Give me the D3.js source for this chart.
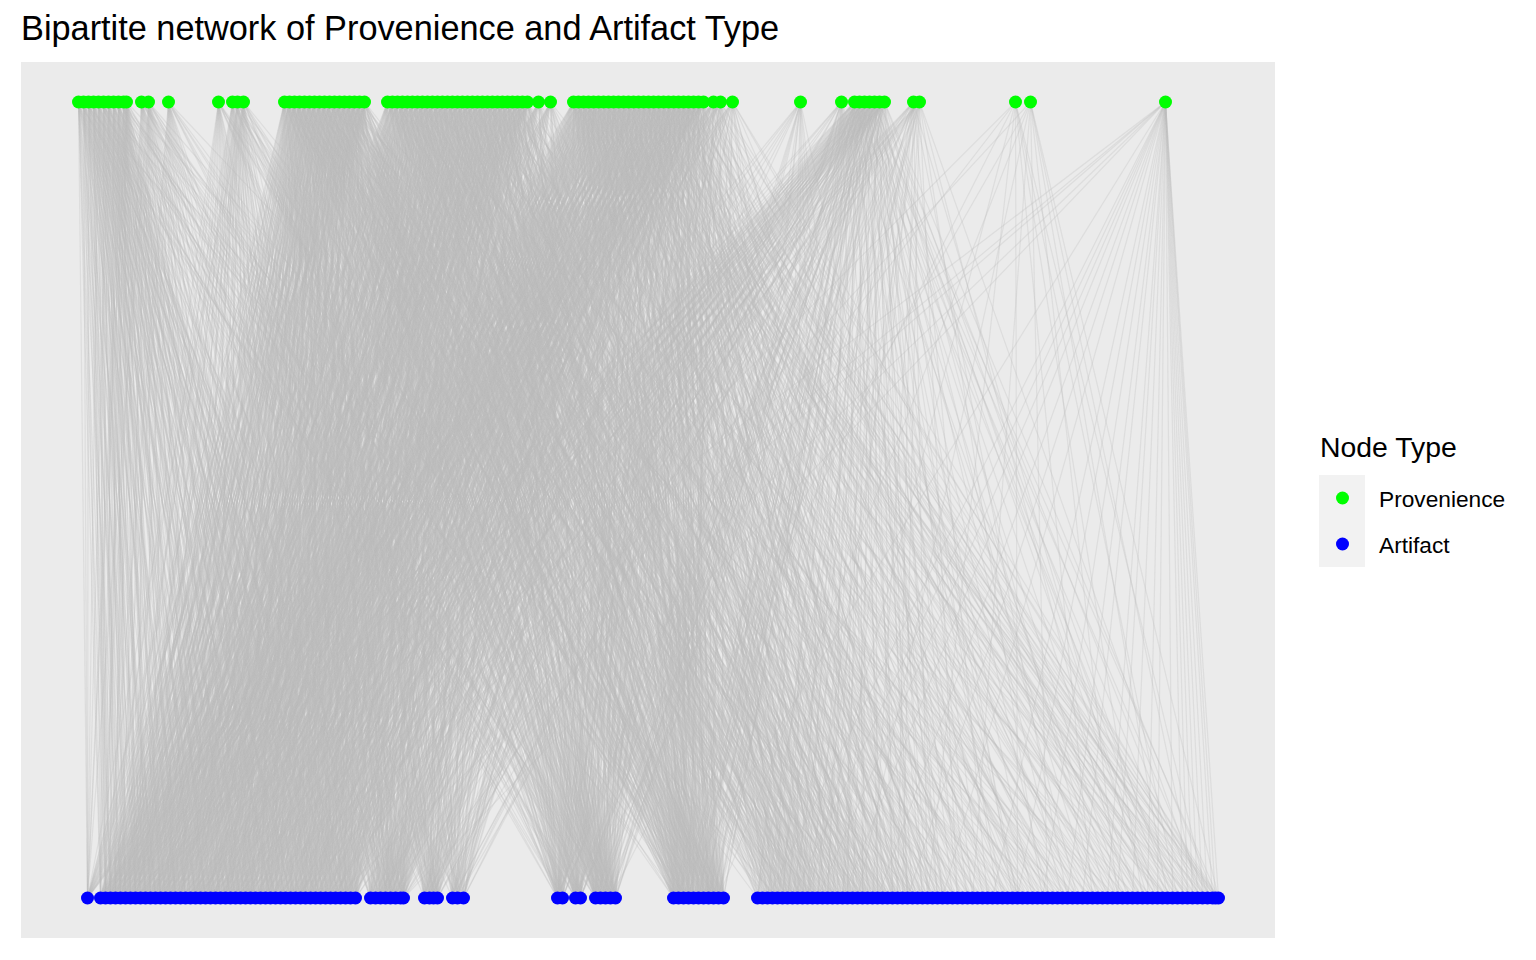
<!DOCTYPE html>
<html>
<head>
<meta charset="utf-8">
<script src="https://cdn.jsdelivr.net/npm/d3@7"></script>
<style>
  html, body { margin: 0; padding: 0; background: #ffffff; }
  svg { display: block; font-family: "Liberation Sans", Arial, sans-serif; }
</style>
</head>
<body>
<svg id="chart" width="1536" height="960"></svg>
<script>
// ---------------- DATA ----------------
const chartTitle = "Bipartite network of Provenience and Artifact Type";
const legendTitle = "Node Type";
const nodeTypes = ["Provenience", "Artifact"];
const typeColors = ["#00ff00", "#0000ff"];

// layout positions (bipartite layout x) of provenience nodes (top row)
const provX = [
  78,83,88,93,98,103,108,113,118,123,126,
  141,148,
  168,
  218,
  232,237,243,
  284,289,294,299,304,309,314,319,324,329,334,339,344,349,354,359,364,
  387,392,397,402,407,412,417,422,427,432,437,442,447,452,457,462,467,472,477,482,487,492,497,502,507,512,517,522,527,
  538,550,
  573,578,583,588,593,598,603,608,613,618,623,628,633,638,643,648,653,658,663,668,673,678,683,688,693,698,703,
  713,720,732,
  800,
  841,
  854,859,864,869,874,879,884,
  913,919,
  1015,1030,
  1165
];

// layout positions of artifact-type nodes (bottom row)
const artX = [
  87,
  100,105,110,115,120,125,130,135,140,145,
  150,155,160,165,170,175,180,185,190,195,
  200,205,210,215,220,225,230,235,240,245,
  250,255,260,265,270,275,280,285,290,295,
  300,305,310,315,320,325,330,335,340,345,
  350,355,
  370,375,380,385,390,395,400,403,
  424,429,433,437,
  452,457,463,
  557,562,
  575,580,
  595,600,605,610,615,
  673,678,683,688,693,698,703,708,713,718,723,
  757,762,767,772,777,782,787,792,797,802,
  807,812,817,822,827,832,837,842,847,852,
  857,862,867,872,877,882,887,892,897,902,
  907,912,917,922,927,932,937,942,947,952,
  957,962,967,972,977,982,987,992,997,1002,
  1007,1012,1017,1022,1027,1032,1037,1042,1047,1052,
  1057,1062,1067,1072,1077,1082,1087,1092,1097,1102,
  1107,1112,1117,1122,1127,1132,1137,1142,1147,1152,
  1157,1162,1167,1172,1177,1182,1187,1192,1197,1202,
  1207,1212,1215,1218
];

// for each provenience node (same order as provX): indices of linked artifact nodes
const provLinks = [
  "0 1 2 3 5 9 14 20 27 35 44 53 70",
  "0 1 4 6 8 12 18 25 31 40 49 57 73 92",
  "0 2 3 7 10 15 22 29 36 45 54 61 69",
  "1 3 5 8 11 16 24 30 38 47 58 65 78",
  "0 2 4 9 13 19 26 33 41 50 59 72 100",
  "1 2 6 10 14 21 28 34 43 52 56 63 75",
  "0 3 5 7 12 17 23 32 39 46 55 66 80",
  "2 4 8 11 15 20 27 37 42 51 60 71 86",
  "1 3 6 9 13 18 25 30 44 48 53 68 96",
  "0 4 7 10 16 22 29 35 40 49 57 74 84",
  "2 5 8 12 19 24 31 38 45 54 62 76 110",
  "3 9 16 23 31 39 47 55 64 70 79 90",
  "5 11 18 26 34 42 50 58 67 73 83 104",
  "2 8 15 21 28 36 44 52 60 69 77 88 120",
  "6 13 20 27 33 41 48 56 71 81 95",
  "4 10 17 24 32 38 46 54 63 72 82 99",
  "7 14 19 26 35 43 51 59 68 75 85 108",
  "9 12 22 30 37 45 53 61 70 78 89 115",
  "1 6 12 19 25 30 36 41 48 55 62 69 74 80 93 128",
  "3 8 14 21 27 33 39 44 50 57 65 71 77 84 101 139",
  "0 5 10 17 23 29 35 42 47 53 60 68 73 79 90 117",
  "2 7 13 20 26 31 37 43 49 56 64 70 76 82 97 150",
  "4 9 15 22 28 34 40 46 52 58 66 72 78 86 106 124",
  "1 11 16 18 24 32 38 45 51 59 61 69 75 83 94 133",
  "3 6 12 19 27 30 36 44 48 54 63 71 74 81 99 145",
  "5 8 14 21 25 33 39 41 50 57 67 70 77 85 103 119",
  "0 10 13 20 26 29 35 42 47 55 62 68 76 80 91 160",
  "2 7 17 23 28 31 37 43 49 53 60 72 73 87 109 131",
  "4 9 15 22 24 34 40 46 51 58 64 69 75 79 96 142",
  "1 6 11 18 27 32 38 45 52 56 65 71 78 84 112 126",
  "3 8 16 20 25 30 36 44 48 59 61 70 74 82 92 155",
  "5 10 12 19 26 33 39 41 50 54 66 68 77 86 105 137",
  "0 7 14 21 28 29 35 42 47 57 63 72 76 83 98 121",
  "2 9 13 17 23 31 37 43 49 55 67 69 73 81 114 148",
  "4 11 15 22 24 34 40 46 51 60 62 71 75 85 100 135",
  "0 8 15 22 30 38 45 52 58 66 70 77 89 102 130",
  "2 10 17 25 33 40 47 54 61 68 74 80 93 118 152",
  "4 12 19 27 35 42 49 56 63 72 76 83 96 107 141",
  "6 14 21 29 37 44 51 57 65 69 73 85 91 111 164",
  "1 9 16 24 31 39 46 53 60 71 75 79 99 115 127",
  "3 11 18 26 32 41 48 55 62 70 77 86 94 104 158",
  "5 13 20 28 34 43 50 59 64 68 72 81 90 122 144",
  "7 15 23 30 36 45 52 58 67 73 76 84 97 109 136",
  "0 10 17 25 38 47 54 60 66 69 74 78 101 113 170",
  "2 12 19 27 33 40 49 56 61 71 75 87 92 125 149",
  "4 14 22 29 35 42 51 53 63 70 73 82 95 108 133",
  "6 8 16 24 31 37 44 57 65 68 76 80 98 116 162",
  "1 11 18 26 34 39 46 55 62 72 77 85 89 103 139",
  "3 13 21 28 36 41 48 59 64 69 74 79 100 120 146",
  "5 9 20 23 30 43 50 54 67 71 75 83 91 110 175",
  "7 15 17 25 32 38 45 52 60 70 73 86 94 128 138",
  "0 12 19 27 33 40 47 58 61 68 76 81 96 105 156",
  "2 10 22 29 35 44 49 56 66 72 74 78 102 117 131",
  "4 14 16 24 31 42 51 53 63 69 77 84 88 112 143",
  "6 8 18 26 37 39 46 57 65 71 75 87 93 124 167",
  "1 11 21 28 34 41 48 55 62 70 73 80 99 106 134",
  "3 13 20 23 30 43 50 59 64 68 76 82 90 119 151",
  "5 9 17 25 36 45 52 54 67 72 74 85 97 114 140",
  "7 15 19 27 32 38 44 58 60 69 77 79 101 126 159",
  "0 12 22 29 33 40 47 56 61 71 75 83 92 107 178",
  "2 10 16 24 35 42 49 53 66 70 73 86 95 121 135",
  "4 14 18 26 31 39 51 57 63 68 76 81 98 110 147",
  "6 8 21 28 37 46 48 55 65 72 74 78 89 129 165",
  "1 11 20 25 34 41 50 59 62 69 77 84 100 113 142",
  "3 15 27 39 52 60 70 75 82 95 118 150",
  "5 18 30 43 55 64 71 76 87 103 132 170",
  "0 9 18 27 36 45 54 63 70 77 88 104 123 145 170",
  "2 11 20 29 38 47 56 65 71 79 90 107 126 148 173",
  "4 13 22 31 40 49 58 61 72 81 92 110 129 151 176",
  "6 15 24 33 42 51 60 66 73 83 94 113 132 154 179",
  "8 17 26 35 44 53 62 68 74 85 96 116 135 157 181",
  "1 10 19 28 37 46 55 64 75 87 98 119 138 160 171",
  "3 12 21 30 39 48 57 67 76 78 100 122 141 163 174",
  "5 14 23 32 41 50 59 69 70 80 102 125 144 166 177",
  "7 16 25 34 43 52 61 72 71 82 89 106 128 147 169",
  "0 9 20 29 38 47 56 65 73 84 91 109 131 150 172",
  "2 11 22 31 40 49 58 68 74 86 93 112 134 153 175",
  "4 13 24 33 42 51 60 62 75 77 95 115 137 156 178",
  "6 15 26 35 44 53 54 63 76 79 97 118 140 159 180",
  "8 17 18 27 36 45 57 66 70 81 99 121 143 162 168",
  "1 10 21 30 39 48 59 67 71 83 101 124 146 165 171",
  "3 12 23 32 41 50 55 64 72 85 103 127 149 161 174",
  "5 14 25 34 43 52 58 69 73 87 88 105 130 152 177",
  "7 16 19 28 37 46 53 61 74 78 90 108 133 155 179",
  "0 11 20 31 42 47 56 65 75 80 92 111 136 158 181",
  "2 13 22 29 40 51 60 68 76 82 94 114 139 148 170",
  "4 9 24 33 38 49 57 63 70 84 96 117 142 151 173",
  "6 15 26 35 44 45 54 66 71 86 98 120 145 157 176",
  "8 17 18 27 36 50 59 62 72 77 100 123 129 163 180",
  "1 10 21 30 39 48 55 67 73 79 102 126 132 166 168",
  "3 12 23 32 41 52 58 64 74 81 104 107 135 154 172",
  "5 14 25 34 43 46 53 69 75 83 89 110 138 160 175",
  "7 16 19 28 37 42 61 65 76 85 91 113 141 164 178",
  "0 20 40 60 70 80 95 115 140 165 181",
  "10 30 50 68 75 87 99 119 144 169 179",
  "5 25 45 65 72 84 103 127 152 174 180",
  "20 45 62 70 76 84 92 101 115 130",
  "8 30 55 68 73 80 88 97 110 125 140 160",
  "3 14 26 38 50 61 69 74 82 93 106 121 137 155 172",
  "6 17 29 41 53 64 70 76 85 96 109 124 140 158 175",
  "9 20 32 44 56 67 71 77 87 99 112 127 143 161 178",
  "1 12 23 35 47 59 68 72 79 102 115 130 146 164 181",
  "4 15 27 39 51 62 69 73 81 90 118 133 149 167 170",
  "7 18 30 42 54 65 70 75 83 105 121 136 152 168 176",
  "10 21 33 45 57 63 71 76 86 94 124 139 156 171 180",
  "12 28 46 60 70 78 88 100 116 134 150 166",
  "18 36 52 66 74 84 95 111 128 145 162 177",
  "25 60 75 98 122 140 155 165 172 178",
  "40 70 86 108 131 146 160 170 176 181",
  "5 22 48 77 90 100 112 125 135 145 153 160 166 171 173 175 176 177 178 179 180 181"
];

// further links of the same provenience nodes (same order as provX)
const provLinksMore = [
  "7 12 24 31 40 49 62 76",
  "3 10 16 22 29 36 45 53 66",
  "5 12 18 26 33 41 50 58 72",
  "2 9 14 20 27 35 43 52 70",
  "6 11 17 23 30 37 46 55 68",
  "4 8 16 25 32 39 48 57 71",
  "1 10 15 20 27 36 44 51 74",
  "3 6 13 18 25 33 39 47 69",
  "5 11 16 22 28 35 41 50 77",
  "2 8 13 19 26 32 38 46 73",
  "0 4 10 16 22 28 35 42 70",
  "1 7 13 20 27 35 43 51 60 72 76 85",
  "0 8 14 21 29 37 45 53 62 69 75 80",
  "4 11 18 25 32 40 48 56 64 71 74 82",
  "2 9 16 23 30 37 44 52 60 68 73 79 86",
  "1 8 14 21 28 35 42 50 58 69 76 84",
  "3 10 17 23 31 39 47 55 62 71 73 80",
  "0 6 15 20 27 34 42 49 57 68 75 83",
  "3 9 15 21 28 33 39 46 53 58 66 70 72 77 85 95 104",
  "0 5 11 17 24 30 36 42 48 55 61 68 73 79 86 91 111",
  "2 8 14 20 27 33 40 45 51 57 64 69 75 81 83 98 107",
  "4 10 16 23 29 35 41 47 54 59 63 71 72 78 87 93 113",
  "1 6 12 18 25 31 37 43 49 56 61 68 74 80 84 101 96",
  "3 8 14 20 27 33 39 44 50 57 65 70 76 79 85 89 109",
  "0 5 10 17 23 29 35 42 47 53 60 69 72 78 86 94 105",
  "2 7 13 19 24 31 37 43 49 55 62 71 73 81 84 99 112",
  "4 9 15 22 28 34 40 46 52 58 64 70 75 77 87 92 102",
  "1 6 12 18 26 32 38 44 50 56 63 68 76 80 83 97 114",
  "3 8 14 20 27 33 39 45 50 57 61 71 72 79 86 90 108",
  "0 5 10 17 24 30 36 42 48 55 62 70 74 81 85 95 103",
  "2 7 13 19 26 31 37 43 49 56 66 69 73 78 84 100 110",
  "4 9 15 21 28 34 40 46 52 58 63 71 75 80 87 93 98",
  "1 6 12 18 24 30 36 44 50 56 64 68 74 77 85 91 116",
  "3 8 14 20 26 33 39 45 51 57 65 70 72 79 86 102 94",
  "0 5 10 17 23 29 35 41 47 53 61 69 76 82 83 97 106",
  "3 11 18 26 34 41 48 55 62 69 73 79 84 94 108",
  "5 13 20 28 36 43 50 57 64 70 75 81 86 97 111",
  "1 9 16 24 31 39 46 53 60 71 72 78 85 91 104",
  "7 14 22 30 38 45 52 59 66 68 76 80 87 100 114",
  "3 12 19 27 34 42 49 56 63 70 74 82 83 95 109",
  "0 8 15 23 30 37 45 52 59 69 73 77 88 103 117",
  "6 14 21 28 35 43 50 57 65 71 75 79 84 92 106",
  "2 10 18 25 33 40 47 54 61 68 72 81 87 98 112",
  "4 12 20 27 33 41 48 56 63 70 76 80 85 93 101",
  "1 9 17 24 32 39 46 53 60 72 74 78 86 96 110",
  "7 15 22 29 36 44 51 58 65 69 75 83 88 105 119",
  "3 11 19 26 34 41 49 56 64 71 73 79 85 90 107",
  "5 13 20 28 35 43 50 57 62 68 77 82 84 99 113",
  "0 8 16 24 31 38 45 52 59 70 72 80 87 94 102",
  "6 14 22 29 37 44 51 58 66 71 76 78 83 97 115",
  "2 10 18 26 33 40 48 55 62 69 74 81 86 92 108",
  "4 12 20 28 35 42 49 57 64 72 75 79 85 100 120",
  "1 9 16 23 31 38 46 53 60 68 73 83 87 95 104",
  "7 15 22 30 37 45 52 59 65 70 76 80 84 91 111",
  "3 11 19 27 34 42 49 56 63 71 72 78 86 98 106",
  "5 13 21 28 36 43 50 58 66 69 75 82 83 103 116",
  "0 8 15 23 30 38 45 52 60 68 74 79 85 93 109",
  "6 14 22 29 36 44 51 59 62 72 77 81 87 96 101",
  "2 10 17 25 32 40 47 54 61 70 73 78 84 90 114",
  "4 12 19 27 34 41 48 55 64 71 76 80 86 99 107",
  "1 9 16 24 31 39 46 53 67 69 72 82 83 94 118",
  "7 15 22 30 37 44 51 58 65 68 75 79 85 102 110",
  "3 11 18 26 33 40 47 56 62 70 74 81 87 97 105",
  "5 13 20 28 35 43 50 57 63 72 77 78 84 92 112",
  "0 9 17 25 33 41 49 57 66 71 73 80 86 100",
  "2 12 21 29 37 45 53 61 69 76 79 85 91 108",
  "4 14 23 32 41 50 58 66 69 72 78 83 86 93 101 111",
  "6 16 25 34 43 52 59 62 68 75 80 84 87 95 104 116",
  "1 10 19 28 37 46 55 64 70 73 77 82 85 97 108 121",
  "3 12 21 30 39 48 57 65 71 76 79 81 86 99 103 112",
  "5 14 23 32 41 50 59 67 69 72 78 84 87 91 106 119",
  "7 16 25 34 43 52 56 63 70 74 80 83 85 94 109 114",
  "0 9 18 27 36 45 54 61 68 73 77 81 86 96 105 123",
  "2 11 20 29 38 47 56 66 71 75 79 82 84 98 111 117",
  "4 13 22 31 40 49 58 65 69 76 78 80 87 93 100 120",
  "6 15 24 33 42 51 60 62 70 72 81 83 85 95 107 113",
  "1 12 21 30 39 48 57 67 68 74 78 80 86 97 104 122",
  "3 14 23 32 41 50 59 64 71 72 77 79 87 99 110 116",
  "5 16 25 34 43 52 55 61 70 73 81 84 85 90 102 118",
  "7 10 19 28 37 46 57 67 69 74 78 82 86 92 106 124",
  "0 9 20 29 38 47 56 63 71 75 77 80 84 94 108 115",
  "2 11 22 31 40 49 58 66 68 76 79 83 87 96 101 121",
  "4 13 24 33 42 51 60 62 70 72 78 81 85 98 112 119",
  "6 15 26 35 44 53 54 65 69 73 80 82 86 91 103 125",
  "1 12 19 28 37 46 57 67 71 74 77 84 87 93 109 114",
  "3 14 21 30 39 48 59 64 68 75 79 83 85 95 105 117",
  "5 16 23 32 41 50 55 61 70 72 81 80 84 97 111 120",
  "7 10 25 34 43 44 58 63 69 76 78 82 86 99 107 123",
  "0 9 19 28 37 48 56 66 71 73 79 84 87 90 102 116",
  "2 11 21 30 39 46 57 65 68 74 80 81 85 92 110 118",
  "4 13 23 32 41 50 60 62 70 75 77 83 86 94 104 122",
  "6 15 26 35 44 47 54 67 69 76 78 79 84 96 106 115",
  "1 12 20 29 38 49 56 63 71 72 81 82 87 98 108 119",
  "3 14 24 33 42 51 59 66 68 73 77 80 85 91 112 124",
  "8 22 35 48 58 69 74 78 85 93 106 121",
  "12 27 40 55 66 71 77 86 97 109 126",
  "10 35 55 68 72 78 86 96 108",
  "15 40 60 70 75 82 93 104 118",
  "8 20 31 43 55 66 68 75 78 84 88 98 113",
  "11 23 35 47 58 62 71 72 80 86 91 102 116",
  "2 16 27 39 51 64 69 74 82 87 94 106 119",
  "5 19 30 42 54 66 70 76 78 85 97 109 122",
  "9 22 34 46 57 61 68 73 80 83 100 112 125",
  "13 25 37 49 60 67 71 77 84 86 103 115 128",
  "3 17 28 40 52 65 69 75 81 85 107 118 131",
  "20 40 64 72 80 92 105 122",
  "24 44 58 71 79 86 98 117",
  "",
  "",
  "30 60 95 105 118 140 150 158 163 168 174"
];

// ---------------- BUILD ----------------
const nodes = [];
provX.forEach((x, i) => nodes.push({ id: "p" + i, type: 0, x: x }));
artX.forEach((x, i) => nodes.push({ id: "a" + i, type: 1, x: x }));

const links = [];
[provLinks, provLinksMore].forEach(list => {
  list.forEach((s, i) => {
    if (!s.trim()) return;
    s.trim().split(/\s+/).forEach(t => links.push({ p: i, a: +t }));
  });
});

const svg = d3.select("#chart");
const panel = { left: 21, top: 62, right: 1275, bottom: 938 };

const x = d3.scaleLinear().domain([78, 1218]).range([78.5, 1218.5]);
const y = d3.scaleLinear().domain([0, 1]).range([898, 102]); // 1 = provenience row
const color = d3.scaleOrdinal().domain([0, 1]).range(typeColors);
const rowOf = t => (t === 0 ? 1 : 0);

// title
svg.append("text")
  .attr("x", 21).attr("y", 40)
  .attr("font-size", 34.3)
  .attr("fill", "#000")
  .text(chartTitle);

// panel background
svg.append("rect")
  .attr("x", panel.left).attr("y", panel.top)
  .attr("width", panel.right - panel.left)
  .attr("height", panel.bottom - panel.top)
  .attr("fill", "#ebebeb");

// edges
svg.append("g")
  .selectAll("line")
  .data(links)
  .join("line")
  .attr("x1", d => x(provX[d.p]))
  .attr("y1", y(1))
  .attr("x2", d => x(artX[d.a]))
  .attr("y2", y(0))
  .attr("stroke", "#bebebe")
  .attr("stroke-opacity", 0.3)
  .attr("stroke-width", 1.2);

// nodes
svg.append("g")
  .selectAll("circle")
  .data(nodes)
  .join("circle")
  .attr("cx", d => x(d.x))
  .attr("cy", d => y(rowOf(d.type)))
  .attr("r", 6.5)
  .attr("fill", d => color(d.type));

// legend
const lg = svg.append("g");
lg.append("text")
  .attr("x", 1320).attr("y", 457)
  .attr("font-size", 28.4)
  .attr("fill", "#000")
  .text(legendTitle);
lg.append("rect")
  .attr("x", 1319).attr("y", 475)
  .attr("width", 46).attr("height", 92)
  .attr("fill", "#f2f2f2");
const legendY = d3.scaleBand().domain(nodeTypes).range([475, 567]);
nodeTypes.forEach((t, i) => {
  const cy = legendY(t) + legendY.bandwidth() / 2;
  lg.append("circle")
    .attr("cx", 1342.5).attr("cy", cy)
    .attr("r", 6.5)
    .attr("fill", color(i));
  lg.append("text")
    .attr("x", 1379).attr("y", cy + 8.5)
    .attr("font-size", 22.7)
    .attr("fill", "#000")
    .text(t);
});
</script>
</body>
</html>
